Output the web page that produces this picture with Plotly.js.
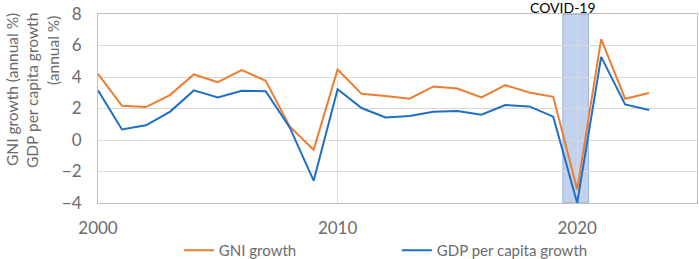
<!DOCTYPE html>
<html>
<head>
<meta charset="utf-8">
<script src="https://cdn.plot.ly/plotly-3.0.1.min.js"></script>
<style>html,body{margin:0;padding:0;background:#fff;}#chart{width:699px;height:259px;}</style>
</head>
<body>
<div id="chart"></div>
<script>
var years = [2000,2001,2002,2003,2004,2005,2006,2007,2008,2009,2010,2011,2012,2013,2014,2015,2016,2017,2018,2019,2020,2021,2022,2023];
var gniGrowth = [4.2,2.17,2.09,2.85,4.16,3.67,4.44,3.76,0.86,-0.62,4.48,2.93,2.79,2.62,3.4,3.27,2.7,3.48,3.02,2.74,-3.15,6.4,2.62,2.98];
var gdpPcGrowth = [3.15,0.67,0.93,1.79,3.15,2.7,3.12,3.1,0.8,-2.58,3.23,2.03,1.43,1.52,1.79,1.84,1.6,2.22,2.13,1.48,-4.0,5.28,2.26,1.9];
var seriesNames = ["GNI growth","GDP per capita growth"];
var covidSpan = [2019.4, 2020.47];
var covidLabel = "COVID-19";
var yTitleLines = ["GNI growth (annual %)","GDP per capita growth","(annual %)"];

var font = "Lato, 'Open Sans', sans-serif";
var grey = "#6b6b6b";

var traces = [
  {x: years, y: gniGrowth, name: seriesNames[0], type: "scatter", mode: "lines",
   line: {color: "#ED7D31", width: 2}},
  {x: years, y: gdpPcGrowth, name: seriesNames[1], type: "scatter", mode: "lines",
   line: {color: "#1F6FC6", width: 2}}
];

var layout = {
  width: 699, height: 259,
  margin: {l: 98, r: 2, t: 14, b: 56},
  paper_bgcolor: "#fff", plot_bgcolor: "#fff",
  font: {family: font, color: grey},
  showlegend: true,
  legend: {orientation: "h", xref: "paper", x: 0.135, xanchor: "left",
           yref: "container", y: 0.097, yanchor: "top",
           bgcolor: "rgba(0,0,0,0)",
           font: {size: 15, color: grey, family: font}, entrywidth: 173, entrywidthmode: "pixels",
           itemwidth: 30},
  xaxis: {range: [2000, 2025], dtick: 10, tick0: 2000, showgrid: true, gridcolor: "#d9d9d9",
          zeroline: false, showline: true, linecolor: "#bfbfbf", mirror: true, automargin: false,
          ticks: "outside", ticklen: 10, tickcolor: "rgba(0,0,0,0)",
          tickfont: {size: 17, color: grey, family: font}},
  yaxis: {range: [-4, 8], dtick: 2, showgrid: true, gridcolor: "#d9d9d9",
          zeroline: false, showline: true, linecolor: "#bfbfbf", mirror: true, automargin: false,
          ticks: "outside", ticklen: 12, tickcolor: "rgba(0,0,0,0)",
          tickfont: {size: 17, color: grey, family: font}},
  shapes: [
    {type: "rect", xref: "x", yref: "paper", x0: covidSpan[0], x1: covidSpan[1], y0: 0, y1: 1,
     fillcolor: "rgba(68,114,196,0.32)", line: {color: "rgba(68,114,196,0.45)", width: 1}, layer: "below"}
  ],
  annotations: [
    {text: covidLabel, xref: "paper", yref: "paper", x: (563-98)/599, y: 1, yshift: 7,
     xanchor: "center", yanchor: "middle", showarrow: false,
     font: {size: 14, color: "#000", family: font}},
    {text: yTitleLines[0], xref: "paper", yref: "paper", x: (12-98)/599, y: (203-90)/189,
     xanchor: "center", yanchor: "middle", textangle: -90, showarrow: false,
     font: {size: 15.5, color: grey, family: font}},
    {text: yTitleLines[1], xref: "paper", yref: "paper", x: (32-98)/599, y: (203-91)/189,
     xanchor: "center", yanchor: "middle", textangle: -90, showarrow: false,
     font: {size: 15.5, color: grey, family: font}},
    {text: yTitleLines[2], xref: "paper", yref: "paper", x: (53-98)/599, y: (203-51)/189,
     xanchor: "center", yanchor: "middle", textangle: -90, showarrow: false,
     font: {size: 15.5, color: grey, family: font}}
  ]
};

Plotly.newPlot("chart", traces, layout, {displayModeBar: false, staticPlot: true});
</script>
</body>
</html>
